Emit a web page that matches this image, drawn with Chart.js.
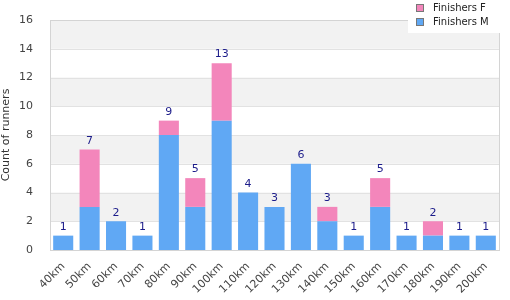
<!DOCTYPE html>
<html><head><meta charset="utf-8">
<script src="https://cdn.jsdelivr.net/npm/chart.js@4/dist/chart.umd.min.js"></script>
<style>html,body{margin:0;padding:0;background:#fff}#wrap{width:510px;height:300px}</style>
</head><body><div id="wrap"><canvas id="c" width="510" height="300"></canvas></div>
<script>
const categories = ['40km','50km','60km','70km','80km','90km','100km','110km','120km','130km','140km','150km','160km','170km','180km','190km','200km'];
const finishersM = [1,3,2,1,8,3,9,4,3,6,2,1,3,1,1,1,1];
const finishersF = [0,4,0,0,1,2,4,0,0,0,1,0,2,0,1,0,0];
const yTicks = [0,2,4,6,8,10,12,14,16];
const PINK = '#f386bb', BLUE = '#60a8f4';
const FONT = '"DejaVu Sans", Verdana, sans-serif';

const bands = {
  id: 'bands',
  beforeDatasetsDraw(chart) {
    const {ctx, chartArea: a, scales: {y}} = chart;
    ctx.save();
    for (let v = 2; v < 16; v += 4) {
      const t = y.getPixelForValue(v + 2), b = y.getPixelForValue(v);
      ctx.fillStyle = '#f2f2f2';
      ctx.fillRect(a.left, t, a.right - a.left, b - t);
    }
    ctx.strokeStyle = '#e2e2e2'; ctx.lineWidth = 1;
    yTicks.forEach(v => {
      const py = Math.round(y.getPixelForValue(v)) + 0.5;
      ctx.beginPath(); ctx.moveTo(a.left, py); ctx.lineTo(a.right, py); ctx.stroke();
    });
    ctx.strokeStyle = '#d4d4d4';
    ctx.strokeRect(Math.round(a.left)+0.5, Math.round(a.top)+0.5, Math.round(a.right-a.left), Math.round(a.bottom-a.top));
    ctx.restore();
  }
};
const totals = {
  id: 'totals',
  afterDatasetsDraw(chart) {
    const {ctx, scales: {x, y}} = chart;
    ctx.save();
    ctx.font = '11px ' + FONT; ctx.fillStyle = '#1c1c8a';
    ctx.textAlign = 'center'; ctx.textBaseline = 'bottom';
    categories.forEach((c, i) => {
      const t = finishersM[i] + finishersF[i];
      ctx.fillText(String(t), x.getPixelForValue(i), y.getPixelForValue(t) - 3);
    });
    ctx.restore();
  },
  afterDraw(chart) {
    const {ctx} = chart;
    ctx.save();
    ctx.fillStyle = '#fff';
    ctx.fillRect(408, 0, 102, 33);
    const items = [[chart.data.datasets[1].label, PINK, 8], [chart.data.datasets[0].label, BLUE, 22]];
    ctx.font = '10px ' + FONT; ctx.textBaseline = 'middle'; ctx.textAlign = 'left';
    items.forEach(([l, col, cy]) => {
      ctx.fillStyle = col; ctx.fillRect(417, cy - 3, 6, 6);
      ctx.strokeStyle = '#777'; ctx.lineWidth = 1; ctx.strokeRect(416.5, cy - 3.5, 7, 7);
      ctx.fillStyle = '#222'; ctx.fillText(l, 433, cy);
    });
    ctx.restore();
  }
};

new Chart(document.getElementById('c'), {
  type: 'bar',
  data: {
    labels: categories,
    datasets: [
      {label: 'Finishers M', data: finishersM, backgroundColor: BLUE, barPercentage: 0.76, categoryPercentage: 1},
      {label: 'Finishers F', data: finishersF, backgroundColor: PINK, barPercentage: 0.76, categoryPercentage: 1}
    ]
  },
  plugins: [bands, totals],
  options: {
    responsive: false, animation: false,
    layout: {padding: {top: 20, right: 11, left: 0, bottom: 0}},
    plugins: {legend: {display: false}, tooltip: {enabled: false}},
    scales: {
      x: {
        stacked: true,
        grid: {display: false},
        border: {display: false},
        ticks: {color: '#444', font: {family: FONT, size: 11}, maxRotation: 45, minRotation: 45, padding: 2},
        afterFit(s) { s.height = 50; }
      },
      y: {
        stacked: true, min: 0, max: 16,
        grid: {display: false},
        border: {display: false},
        afterBuildTicks(s) { s.ticks = yTicks.map(v => ({value: v})); },
        ticks: {color: '#444', font: {family: FONT, size: 11}, padding: 9},
        title: {display: true, text: 'Count of runners', color: '#333', font: {family: FONT, size: 11}, padding: 0},
        afterFit(s) { s.width = 50; }
      }
    }
  }
});
</script></body></html>
